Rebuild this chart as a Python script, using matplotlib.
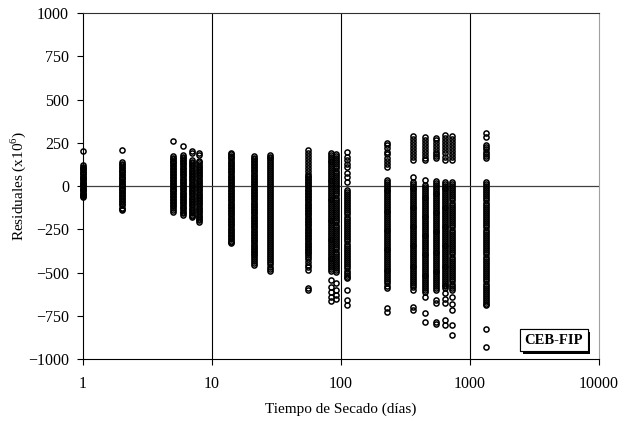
import matplotlib
matplotlib.use('Agg')
import matplotlib.pyplot as plt
import matplotlib.patheffects as pe
from matplotlib.ticker import FixedLocator, FixedFormatter

plt.rcParams['font.family'] = 'Liberation Serif'
plt.rcParams['mathtext.fontset'] = 'custom'
plt.rcParams['mathtext.rm'] = 'Liberation Serif'

# Residuales (x10^6) por tiempo de secado (dias)
r_1 = [204, 121, 113, 106, 98, 91, 83, 76, 69, 61, 54, 47, 40, 33, 26, 19, 12, 5,
       -2, -9, -16, -23, -30, -37, -44, -51, -57, -62]
r_2 = [208, 137, 129, 120, 112, 104, 96, 88, 80, 71, 63, 55, 47, 39, 31, 23, 15, 7,
       -1, -9, -17, -25, -34, -42, -50, -58, -67, -75, -84, -93, -103, -112, -124,
       -131, -139]
r_5 = [260, 173, 165, 156, 148, 139, 131, 122, 114, 105, 97, 88, 80, 71, 63, 54, 46,
       37, 29, 20, 12, 3, -5, -14, -22, -31, -39, -48, -56, -65, -73, -82, -90, -99,
       -108, -117, -126, -137, -148]
r_6 = [233, 179, 170, 161, 152, 143, 134, 125, 116, 107, 98, 89, 80, 71, 62, 53, 44,
       35, 26, 17, 8, -1, -10, -19, -28, -37, -46, -55, -64, -73, -82, -91, -100,
       -110, -119, -128, -138, -148, -158, -168]
r_7 = [204, 189, 150, 141, 132, 123, 114, 105, 96, 87, 78, 69, 60, 51, 42, 33, 24,
       15, 6, -3, -12, -21, -30, -39, -48, -57, -66, -75, -84, -93, -102, -111, -120,
       -130, -140, -150, -158, -166, -173, -180]
r_8 = [192, 178, 146, 137, 128, 119, 110, 101, 92, 83, 74, 65, 56, 47, 38, 29, 20,
       11, 2, -7, -16, -25, -34, -43, -52, -61, -70, -79, -88, -97, -106, -115, -124,
       -133, -142, -152, -162, -172, -180, -188, -197, -206]
r_14 = [192, 183, 175, 168, 160, 151, 142, 133, 124, 115, 106, 97, 88, 79, 70, 61,
        52, 43, 34, 25, 16, 7, -2, -11, -20, -29, -38, -47, -56, -65, -74, -83, -92,
        -101, -110, -119, -128, -137, -146, -155, -164, -173, -182, -191, -200, -209,
        -218, -227, -236, -245, -254, -263, -272, -281, -290, -299, -308, -316, -323,
        -331]
r_21 = [173, 165, 157, 148, 139, 130, 121, 112, 103, 94, 85, 76, 67, 58, 49, 40, 31,
        22, 13, 4, -5, -14, -23, -32, -41, -50, -59, -68, -77, -86, -95, -104, -113,
        -122, -131, -140, -149, -158, -167, -176, -185, -194, -203, -212, -221, -230,
        -239, -248, -257, -266, -275, -284, -293, -302, -311, -320, -329, -338, -347,
        -356, -365, -374, -383, -392, -401, -412, -422, -433, -445, -457]
r_28 = [179, 170, 161, 150, 138, 126, 115, 103, 92, 80, 69, 57, 46, 34, 23, 11, 0,
        -11, -23, -34, -46, -57, -69, -80, -92, -103, -115, -126, -138, -149, -161,
        -172, -184, -195, -207, -218, -230, -241, -253, -264, -276, -287, -299, -310,
        -322, -333, -345, -356, -368, -379, -391, -402, -414, -425, -440, -452, -465,
        -477, -489]
r_56 = [208, 190, 172, 155, 137, 120, 102, 85, 70, 61, 52, 43, 34, 25, 16, 7, -2,
        -11, -20, -29, -38, -47, -56, -65, -74, -83, -92, -101, -110, -119, -128,
        -137, -146, -155, -164, -173, -182, -191, -200, -209, -218, -227, -236, -245,
        -254, -263, -272, -281, -290, -299, -308, -317, -326, -335, -344, -353, -362,
        -371, -380, -389, -398, -408, -420, -438, -455, -470, -485, -590, -598]
r_84 = [192, 181, 170, 159, 148, 137, 126, 115, 104, 93, 82, 71, 60, 49, 38, 27, 16,
        5, -6, -17, -28, -39, -50, -61, -72, -83, -94, -105, -116, -127, -138, -149,
        -160, -171, -182, -193, -204, -215, -226, -237, -248, -259, -270, -281, -292,
        -303, -314, -325, -336, -347, -358, -369, -380, -391, -402, -413, -424, -435,
        -446, -457, -468, -479, -490, -545, -585, -612, -640, -662]
r_91 = [186, 174, 162, 150, 138, 126, 114, 102, 90, 78, 66, 54, 42, 30, 18, 6, -6,
        -18, -30, -42, -54, -66, -78, -90, -102, -114, -126, -138, -150, -162, -174,
        -186, -198, -210, -222, -234, -246, -258, -270, -282, -294, -306, -318, -330,
        -342, -354, -366, -378, -390, -402, -414, -426, -438, -450, -462, -474, -486,
        -495, -560, -600, -628, -650]
r_112 = [198, 169, 150, 130, 112, 75, 55, 25, -20, -32, -44, -56, -68, -80, -92,
         -104, -116, -128, -140, -152, -164, -176, -188, -200, -212, -224, -236, -248,
         -260, -272, -284, -296, -308, -320, -332, -344, -356, -368, -380, -392, -404,
         -416, -428, -440, -452, -464, -476, -488, -500, -512, -524, -532, -601, -659,
         -688]
r_227 = [250, 235, 218, 200, 183, 165, 148, 130, 112, 35, 24, 13, 2, -9, -20, -31,
         -42, -53, -64, -75, -86, -97, -108, -119, -130, -141, -152, -163, -174, -185,
         -196, -207, -218, -229, -240, -251, -262, -273, -284, -295, -306, -317, -328,
         -339, -350, -361, -372, -383, -394, -405, -416, -427, -438, -449, -460, -471,
         -482, -493, -504, -515, -526, -537, -548, -560, -575, -591, -707, -727]
r_365 = [289, 272, 255, 238, 220, 203, 185, 168, 150, 54, 25, 14, 3, -8, -19, -30,
         -41, -52, -63, -74, -85, -96, -107, -118, -129, -140, -151, -162, -173, -184,
         -195, -206, -217, -228, -239, -250, -261, -272, -283, -294, -305, -316, -327,
         -338, -349, -360, -371, -382, -393, -404, -415, -426, -437, -448, -459, -470,
         -481, -492, -503, -514, -525, -536, -547, -558, -570, -585, -601, -697, -717]
r_448 = [285, 268, 250, 233, 215, 198, 180, 165, 150, 35, 6, -5, -16, -27, -38, -49,
         -60, -71, -82, -93, -104, -115, -126, -137, -148, -159, -170, -181, -192,
         -203, -214, -225, -236, -247, -258, -269, -280, -291, -302, -313, -324, -335,
         -346, -357, -368, -379, -390, -401, -412, -423, -434, -445, -456, -467, -478,
         -489, -500, -511, -522, -533, -544, -555, -566, -577, -588, -600, -611, -640,
         -735, -784]
r_545 = [281, 265, 248, 232, 215, 200, 185, 172, 160, 29, 18, 7, -4, -15, -26, -37,
         -48, -59, -70, -81, -92, -103, -114, -125, -136, -147, -158, -169, -180, -191,
         -202, -213, -224, -235, -246, -257, -268, -279, -290, -301, -312, -323, -334,
         -345, -356, -367, -378, -389, -400, -411, -422, -433, -444, -455, -466, -477,
         -488, -499, -510, -521, -532, -543, -554, -565, -576, -587, -601, -659, -678,
         -784, -795]
r_640 = [295, 278, 260, 243, 225, 208, 190, 170, 150, 25, 14, 3, -8, -19, -30, -41,
         -52, -63, -74, -85, -96, -107, -118, -129, -140, -151, -162, -173, -184, -195,
         -206, -217, -228, -239, -250, -261, -272, -283, -294, -305, -316, -327, -338,
         -349, -360, -371, -382, -393, -404, -415, -426, -437, -448, -459, -470, -481,
         -492, -503, -514, -525, -536, -547, -558, -569, -580, -591, -620, -650, -678,
         -774, -803]
r_730 = [289, 272, 255, 238, 220, 203, 185, 168, 150, 25, 13, 1, -11, -23, -35, -47,
         -59, -71, -83, -95, -107, -119, -131, -143, -155, -167, -179, -191, -203,
         -215, -227, -239, -251, -263, -275, -287, -299, -311, -323, -335, -347, -359,
         -371, -383, -395, -407, -419, -431, -443, -455, -467, -479, -491, -503, -515,
         -527, -539, -551, -563, -575, -588, -601, -640, -680, -717, -803, -861]
r_1330 = [305, 285, 237, 225, 212, 200, 187, 175, 162, 25, 13, 1, -11, -23, -35, -47,
          -59, -71, -83, -95, -107, -119, -131, -143, -155, -167, -179, -191, -203,
          -215, -227, -239, -251, -263, -275, -287, -299, -311, -323, -335, -347, -359,
          -371, -383, -395, -407, -419, -431, -443, -455, -467, -479, -491, -503, -515,
          -527, -539, -551, -563, -575, -587, -599, -611, -623, -635, -647, -659, -671,
          -683, -688, -823, -929]

dias = [1, 2, 5, 6, 7, 8, 14, 21, 28, 56, 84, 91, 112, 227, 365, 448, 545, 640, 730, 1330]
residuales = [r_1, r_2, r_5, r_6, r_7, r_8, r_14, r_21, r_28, r_56, r_84, r_91, r_112,
              r_227, r_365, r_448, r_545, r_640, r_730, r_1330]

x_ticks = [1, 10, 100, 1000, 10000]
x_labels = ['1', '10', '100', '1000', '10000']
y_ticks = [-1000, -750, -500, -250, 0, 250, 500, 750, 1000]

fig = plt.figure(figsize=(6.29, 4.23), dpi=100)
ax = fig.add_axes([0.132, 0.151, 0.820, 0.818])

for d, r in zip(dias, residuales):
    ax.plot([d] * len(r), r, linestyle='none', marker='o', markersize=3.7,
            markerfacecolor='none', markeredgecolor='black', markeredgewidth=1.1,
            clip_on=False, zorder=3)

ax.set_xscale('log')
ax.set_xlim(1, 10000)
ax.set_ylim(-1000, 1000)
ax.xaxis.set_major_locator(FixedLocator(x_ticks))
ax.xaxis.set_major_formatter(FixedFormatter(x_labels))
ax.xaxis.set_minor_locator(FixedLocator([]))
ax.set_yticks(y_ticks)
ax.tick_params(axis='both', labelsize=11.5, length=4, width=0.8, direction='out')
ax.tick_params(axis='x', pad=8)
ax.tick_params(axis='y', pad=6)

for d in [10, 100, 1000]:
    ax.axvline(d, color='black', linewidth=0.8, zorder=1)
ax.axhline(0, color='#404040', linewidth=0.9, zorder=1)

ax.spines['left'].set_color('black')
ax.spines['bottom'].set_color('black')
ax.spines['top'].set_color('#303030')
ax.spines['right'].set_color('#a0a0a0')

ax.set_xlabel('Tiempo de Secado (días)', fontsize=11, labelpad=8)
ax.set_ylabel('Residuales (x10$^{6}$)', fontsize=11, labelpad=0)

t = ax.text(0.913, 0.055, 'CEB-FIP', transform=ax.transAxes, ha='center', va='center',
            fontsize=10.5, fontweight='bold', zorder=5,
            bbox=dict(boxstyle='square,pad=0.3', facecolor='white', edgecolor='black',
                      linewidth=0.8))
t.get_bbox_patch().set_path_effects([pe.withSimplePatchShadow(offset=(2, -2),
                                     shadow_rgbFace='black', alpha=1.0), pe.Normal()])

fig.savefig('out.png', dpi=100)
